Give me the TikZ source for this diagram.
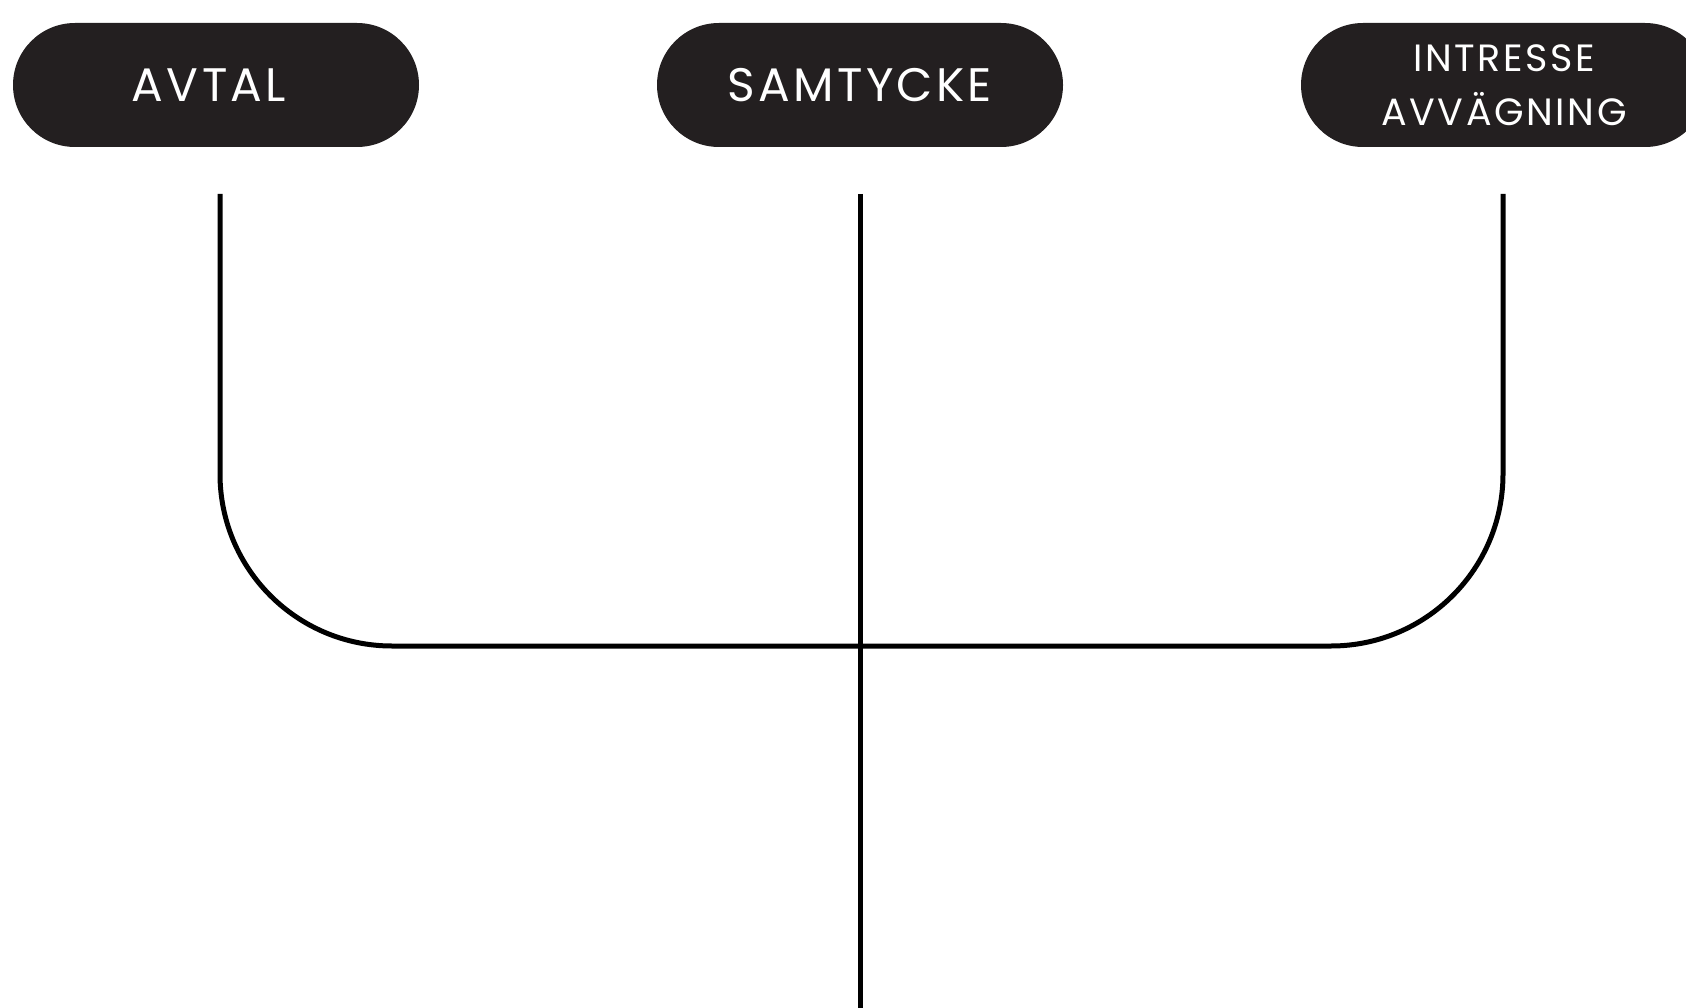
\documentclass[tikz,border=0pt]{standalone}
\usepackage{fontspec}
\setmainfont{Poppins}[LetterSpace=7]
\usetikzlibrary{shapes.misc}
\definecolor{pillfill}{HTML}{231F20}
\tikzset{
  pill/.style={rounded rectangle, fill=pillfill, text=white, minimum width=406pt, minimum height=124pt, inner sep=0pt, align=center, font=\fontsize{47}{56}\selectfont},
  conn/.style={line width=5pt, black}
}
\begin{document}
\begin{tikzpicture}[x=1pt,y=-1pt]
\useasboundingbox (0,0) rectangle (1686,1008);
\clip (0,0) rectangle (1686,1008);
\node[pill] (avtal) at (216,85) {\hspace*{-14pt}AVTAL};
\node[pill] (samtycke) at (860,85) {SAMTYCKE};
\node[pill, font=\fontsize{38}{54}\selectfont] (intresse) at (1504,85) {INTRESSE\\AVVÄGNING};
\coordinate (a1) at (220,194);
\coordinate (s1) at (860,194);
\coordinate (i1) at (1503,194);
\coordinate (s2) at (860,1008);
\draw[conn, rounded corners=172pt] (a1) -- (220,646) -- (1503,646) -- (i1);
\draw[conn] (s1) -- (s2);
\end{tikzpicture}
\end{document}
